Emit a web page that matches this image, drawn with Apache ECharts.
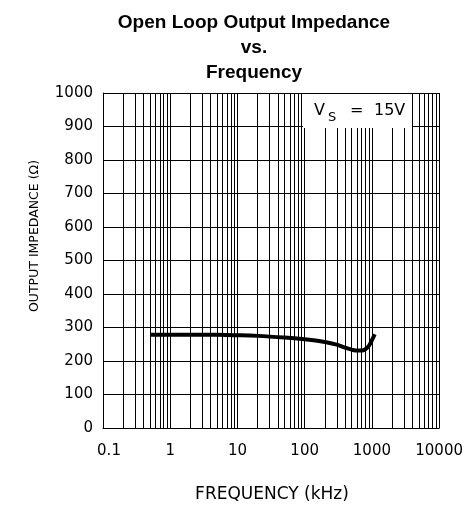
<!DOCTYPE html>
<html><head><meta charset="utf-8">
<script src="https://cdn.jsdelivr.net/npm/echarts@6/dist/echarts.min.js"></script>
<style>html,body{margin:0;padding:0;background:#fff}#c{width:466px;height:506px}</style>
</head><body><div id="c"></div>
<script>
const freqKHz = [0.5, 1, 2, 5, 10, 20, 50, 100, 200, 300, 400, 500, 600, 700, 800, 900, 1000, 1100];
const impedance = [278, 278, 278, 278, 277, 275, 270, 265, 257, 249, 240, 234, 231, 231, 235, 245, 262, 280];
const gridFreqs = [];
for (let d = -1; d <= 3; d++) { for (let m = 1; m <= 9; m++) { gridFreqs.push(+(m * Math.pow(10, d)).toPrecision(3)); } }
gridFreqs.push(10000);
const xTickLabels = ['0.1', '1', '10', '100', '1000', '10000'];
const titleLines = ['Open Loop Output Impedance', 'vs.', 'Frequency'];
const xTitle = 'FREQUENCY (kHz)';
const yTitle = 'OUTPUT IMPEDANCE (\u03A9)';

const chart = echarts.init(document.getElementById('c'), null, {renderer: 'canvas'});
const lbl = {fontFamily: 'DejaVu Sans', fontSize: 15, color: '#000'};
chart.setOption({
  animation: false,
  backgroundColor: '#fff',
  title: {
    text: titleLines.join('\n'), left: 249, top: 5, textAlign: 'center',
    textStyle: {fontFamily: 'Liberation Sans', fontWeight: 'bold', fontSize: 19, lineHeight: 25, color: '#000'}
  },
  grid: {left: 103, right: 26, top: 93, bottom: 78},
  xAxis: {
    type: 'log', logBase: 10, min: 0.1, max: 10000,
    axisLine: {lineStyle: {color: '#000', width: 1}},
    axisTick: {show: false},
    splitLine: {show: false},
    axisLabel: Object.assign({margin: 16, formatter: v => {
      const i = Math.round(Math.log10(v)) + 1;
      return i === 0 ? '{f|' + xTickLabels[0] + '}' : (xTickLabels[i] || '');
    }, rich: {f: {fontFamily: 'DejaVu Sans', fontSize: 15, color: '#000', padding: [0, 0, 0, 12]}}}, lbl)
  },
  yAxis: {
    type: 'value', min: 0, max: 1000, interval: 100,
    axisLine: {show: true, lineStyle: {color: '#000', width: 1}},
    axisTick: {show: false},
    splitLine: {show: true, lineStyle: {color: '#000', width: 1}},
    axisLabel: Object.assign({margin: 10, formatter: v => String(v)}, lbl)
  },
  series: [
    {
      type: 'line', data: [], silent: true,
      markLine: {
        silent: true, symbol: 'none', label: {show: false},
        lineStyle: {color: '#000', width: 1, type: 'solid'},
        data: gridFreqs.map(f => ({xAxis: f}))
      }
    },
    {
      type: 'line', smooth: 0.4, showSymbol: false, z: 5,
      lineStyle: {color: '#000', width: 4},
      data: freqKHz.map((f, i) => [f, impedance[i]])
    }
  ],
  graphic: [
    {type: 'rect', shape: {x: 303, y: 94, width: 109, height: 34}, style: {fill: '#fff'}, z: 100},
    {type: 'text', x: 314, y: 103, z: 101, style: {text: 'V', font: '16px "DejaVu Sans"', fill: '#000'}},
    {type: 'text', x: 328, y: 111, z: 101, style: {text: 'S', font: '13px "DejaVu Sans"', fill: '#000'}},
    {type: 'text', x: 350, y: 103, z: 101, style: {text: '=', font: '16px "DejaVu Sans"', fill: '#000'}},
    {type: 'text', x: 374, y: 103, z: 101, style: {text: '15V', font: '16px "DejaVu Sans"', fill: '#000'}},
    {type: 'text', x: 272, y: 495, z: 101, style: {text: xTitle, font: '17px "DejaVu Sans"', fill: '#000', textAlign: 'center', textVerticalAlign: 'middle'}},
    {type: 'text', x: 35, y: 236, rotation: Math.PI / 2, z: 101, style: {text: yTitle, font: '12.5px "DejaVu Sans"', fill: '#000', textAlign: 'center', textVerticalAlign: 'middle'}}
  ]
});
</script></body></html>
